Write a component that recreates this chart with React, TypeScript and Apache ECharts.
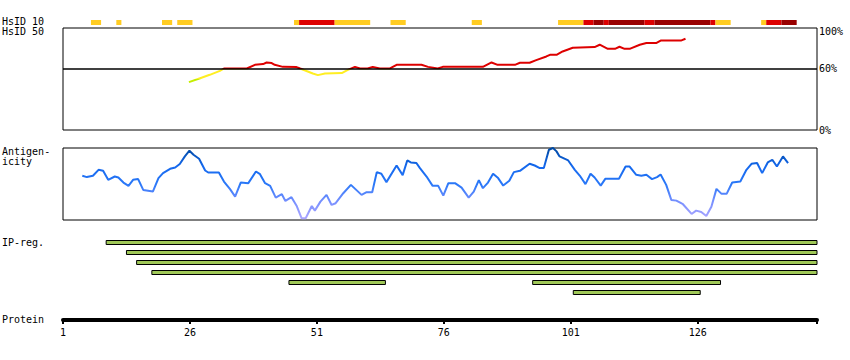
import React, { useEffect, useRef } from "react";
import * as echarts from "echarts";

const FONT = "DejaVu Sans Mono";
const AXIS_MIN = 1;
const AXIS_MAX = 149.5;
const AXIS_TICKS = [1, 26, 51, 76, 101, 126];

// HsID 10 segments: [startResidue, endResidue, level]
const HSID10_SEGMENTS = [
  [7, 8, 1], [12, 12, 1], [21, 22, 1], [24, 26, 1], [47, 47, 1], [48, 54, 2],
  [55, 61, 1], [66, 68, 1], [82, 83, 1], [99, 103, 1], [104, 105, 2], [106, 107, 3],
  [108, 108, 2], [109, 115, 3], [116, 117, 2], [118, 128, 3], [129, 129, 2],
  [130, 132, 1], [139, 139, 1], [140, 142, 2], [143, 145, 3],
];
const HSID10_COLORS = ["#ffcc22", "#dd0000", "#990000"];

// HsID 50 curve
const HSID50_RESIDUE = [
  25.8, 28.0, 29.9, 31.9, 32.7, 37.2, 38.8, 40.4, 41.1, 42.1, 42.7, 44.3, 47.0, 47.7,
  50.2, 51.2, 52.6, 55.9, 57.1, 58.5, 59.5, 61.0, 62.0, 63.4, 65.4, 66.7, 71.6, 72.9,
  74.8, 75.8, 83.7, 85.4, 86.6, 90.0, 91.0, 92.9, 94.2, 96.2, 96.9, 98.2, 99.4, 101.4,
  105.7, 106.7, 108.3, 109.7, 110.6, 111.6, 112.6, 114.6, 115.9, 117.9, 118.8, 122.8, 123.6,
];
const HSID50_VALUE = [
  46.9, 50.8, 54.1, 58.0, 60.3, 60.3, 63.9, 64.6, 66.2, 65.6, 63.9, 61.9, 61.7, 60.3,
  55.4, 53.8, 55.4, 55.8, 59.0, 61.9, 60.3, 60.3, 61.9, 60.3, 60.3, 63.9, 63.9, 61.9,
  60.3, 61.9, 61.9, 66.2, 63.9, 63.9, 65.9, 65.9, 68.5, 72.1, 73.7, 73.7, 77.0, 80.6,
  81.3, 83.6, 79.6, 79.6, 81.6, 79.6, 79.6, 83.6, 85.3, 85.3, 87.8, 87.8, 89.5,
];

// Antigenicity curve
const ANTIGEN_RESIDUE = [
  4.8, 5.7, 6.9, 8.0, 8.9, 9.9, 11.2, 11.9, 12.9, 13.9, 14.8, 15.8, 16.8, 18.7, 19.8,
  20.7, 22.1, 23.1, 24.0, 25.0, 25.9, 26.7, 27.8, 29.0, 29.6, 31.7, 32.7, 33.9, 34.9,
  36.0, 37.5, 39.0, 39.8, 40.8, 41.8, 42.9, 44.1, 44.8, 46.0, 47.0, 48.0, 48.8, 50.0,
  50.6, 51.7, 52.9, 53.9, 54.7, 56.2, 57.7, 59.8, 60.8, 61.9, 62.8, 63.7, 64.7, 66.7,
  67.9, 68.8, 69.5, 70.6, 71.3, 72.6, 73.8, 74.9, 75.9, 76.9, 78.2, 79.5, 80.9, 81.9,
  82.9, 83.7, 84.7, 85.7, 86.7, 87.7, 88.9, 89.8, 91.0, 92.9, 93.9, 94.9, 95.7, 96.7,
  97.5, 98.2, 98.8, 100.5, 101.8, 102.8, 103.9, 104.9, 105.7, 106.9, 107.8, 110.5,
  111.8, 112.6, 113.9, 114.9, 115.9, 117.0, 118.0, 118.7, 119.8, 120.8, 121.8, 123.1,
  124.8, 125.7, 126.7, 127.7, 128.7, 129.7, 130.7, 131.7, 132.8, 134.4, 135.6, 136.6,
  137.7, 138.7, 139.8, 140.7, 141.6, 142.8, 143.8,
];
const ANTIGEN_VALUE = [
  61.4, 59.6, 61.4, 69.7, 68.3, 55.8, 60.4, 59.0, 52.0, 47.4, 55.8, 56.8, 41.8, 39.5, 58.2,
  65.1, 71.1, 72.9, 77.7, 88.3, 96.2, 90.7, 85.1, 68.8, 66.0, 66.0, 53.4, 42.8, 32.5,
  52.0, 51.2, 67.4, 63.7, 51.2, 47.4, 31.1, 35.8, 26.5, 31.7, 19.9, 2.4, 2.4, 19.5,
  13.0, 25.5, 34.9, 20.9, 23.3, 37.2, 48.8, 34.9, 38.6, 38.6, 66.5, 64.2, 52.6, 75.7,
  62.3, 82.7, 79.9, 79.1, 72.1, 60.4, 47.4, 47.4, 33.9, 51.2, 51.2, 45.0, 31.1, 39.5,
  55.4, 44.2, 52.0, 64.2, 58.2, 47.8, 54.4, 66.5, 68.3, 78.1, 75.7, 72.1, 72.1, 97.6,
  100.0, 95.3, 88.3, 82.7, 69.7, 61.4, 49.8, 64.2, 59.0, 47.8, 57.2, 57.2,
  74.3, 74.3, 62.8, 61.4, 62.8, 56.8, 59.6, 63.2, 48.8, 27.9, 26.9, 21.9,
  8.4, 13.0, 11.2, 5.6, 18.5, 43.2, 36.3, 36.3, 52.0, 53.4, 69.7, 78.1,
  79.1, 65.1, 79.9, 83.7, 74.3, 88.3, 79.1,
];

// IP-reg regions: [startResidue, endResidue, row]
const IPREG_REGIONS = [
  [10, 149, 0], [14, 149, 1], [16, 149, 2], [19, 149, 3],
  [46, 64, 4], [94, 130, 4], [102, 126, 5],
];

const LEFT_LABELS = [
  { text: "HsID 10", y: 22.5 },
  { text: "HsID 50", y: 32.5 },
  { text: "Antigen-", y: 152.5 },
  { text: "icity", y: 162.5 },
  { text: "IP-reg.", y: 243 },
  { text: "Protein", y: 320 },
];

export default function App() {
  const ref = useRef<HTMLDivElement>(null);

  useEffect(() => {
    if (!ref.current) return;
    const chart = echarts.init(ref.current, null, { renderer: "svg" });

    const gridBase = { left: 63, right: 33, containLabel: false };
    const hiddenX = (gi: number) => ({
      type: "value", gridIndex: gi, min: AXIS_MIN, max: AXIS_MAX, show: false,
    });

    const option: any = {
      animation: false,
      backgroundColor: "#ffffff",
      textStyle: { fontFamily: FONT },
      grid: [
        { ...gridBase, top: 20, height: 5 },
        { ...gridBase, top: 28, height: 102, show: true, borderColor: "#000", borderWidth: 1 },
        { ...gridBase, top: 148, height: 72, show: true, borderColor: "#000", borderWidth: 1 },
        { ...gridBase, top: 240, height: 60 },
        { ...gridBase, top: 300, height: 20 },
      ],
      xAxis: [
        hiddenX(0),
        hiddenX(1),
        hiddenX(2),
        hiddenX(3),
        {
          type: "value", gridIndex: 4, min: AXIS_MIN, max: AXIS_MAX,
          axisLine: { show: true, lineStyle: { color: "#000", width: 4 } },
          axisTick: {
            show: true, length: 4, lineStyle: { color: "#000", width: 2 },
            customValues: [...AXIS_TICKS, AXIS_MAX],
          },
          axisLabel: {
            show: true, customValues: AXIS_TICKS, color: "#000",
            fontFamily: FONT, fontSize: 10, margin: 7,
          },
          splitLine: { show: false },
        },
      ],
      yAxis: [
        { type: "value", gridIndex: 0, min: 0, max: 1, show: false },
        {
          type: "value", gridIndex: 1, min: 0, max: 100, interval: 20, position: "right",
          axisLine: { show: false }, axisTick: { show: false }, splitLine: { show: false },
          axisLabel: {
            show: true, margin: 2, color: "#000", fontFamily: FONT, fontSize: 10,
            formatter: (v: number) =>
              v === 100 ? "{t|100%}" : v === 0 || v === 60 ? v + "%" : "",
            rich: { t: { padding: [7, 0, 0, 0], fontFamily: FONT, fontSize: 10, color: "#000" } },
          },
        },
        { type: "value", gridIndex: 2, min: 0, max: 100, show: false },
        { type: "value", gridIndex: 3, min: 0, max: 6, inverse: true, show: false },
        { type: "value", gridIndex: 4, min: 0, max: 1, show: false },
      ],
      visualMap: [
        {
          type: "piecewise", show: false, seriesIndex: 1, dimension: 1,
          pieces: [
            { lt: 50, color: "#c4ee00" },
            { gte: 50, lt: 60, color: "#ffee22" },
            { gte: 60, color: "#dd0000" },
          ],
        },
        {
          type: "continuous", show: false, seriesIndex: 2, dimension: 1, min: 0, max: 100,
          inRange: { color: ["#b0a8ff", "#7890ff", "#2a78f8", "#1468ee", "#0048a0"] },
        },
      ],
      series: [
        {
          type: "custom", xAxisIndex: 0, yAxisIndex: 0, clip: false,
          encode: { x: [0, 1] },
          data: HSID10_SEGMENTS,
          renderItem: (_p: any, api: any) => {
            const s = api.value(0), e = api.value(1), lvl = api.value(2);
            const p0 = api.coord([s - 0.5, 1]);
            const p1 = api.coord([e + 0.5, 0]);
            return {
              type: "rect",
              shape: { x: p0[0], y: p0[1], width: p1[0] - p0[0], height: p1[1] - p0[1] },
              style: { fill: HSID10_COLORS[lvl - 1] },
            };
          },
        },
        {
          type: "line", xAxisIndex: 1, yAxisIndex: 1, symbol: "none",
          lineStyle: { width: 2 },
          data: HSID50_RESIDUE.map((r, i) => [r, HSID50_VALUE[i]]),
          markLine: {
            silent: true, symbol: "none", label: { show: false },
            lineStyle: { color: "#000", width: 1.5, type: "solid" },
            data: [{ yAxis: 60 }],
          },
        },
        {
          type: "line", xAxisIndex: 2, yAxisIndex: 2, symbol: "none",
          lineStyle: { width: 2 },
          data: ANTIGEN_RESIDUE.map((r, i) => [r, ANTIGEN_VALUE[i]]),
        },
        {
          type: "custom", xAxisIndex: 3, yAxisIndex: 3, clip: false,
          encode: { x: [0, 1] },
          data: IPREG_REGIONS,
          renderItem: (_p: any, api: any) => {
            const s = api.value(0), e = api.value(1), row = api.value(2);
            const p0 = api.coord([s - 0.5, row]);
            const p1 = api.coord([e + 0.5, row]);
            return {
              type: "rect",
              shape: { x: p0[0], y: p0[1] + 0.5, width: p1[0] - p0[0], height: 4 },
              style: { fill: "#a0c858", stroke: "#000", lineWidth: 1 },
            };
          },
        },
      ],
      graphic: LEFT_LABELS.map((l) => ({
        type: "text", left: 2, top: l.y - 6,
        style: { text: l.text, fill: "#000", font: `10px "${FONT}"` },
      })),
    };

    chart.setOption(option);
    return () => chart.dispose();
  }, []);

  return (
    <div
      ref={ref}
      style={{ position: "absolute", left: 0, top: 0, width: 850, height: 360, background: "#fff" }}
    />
  );
}
